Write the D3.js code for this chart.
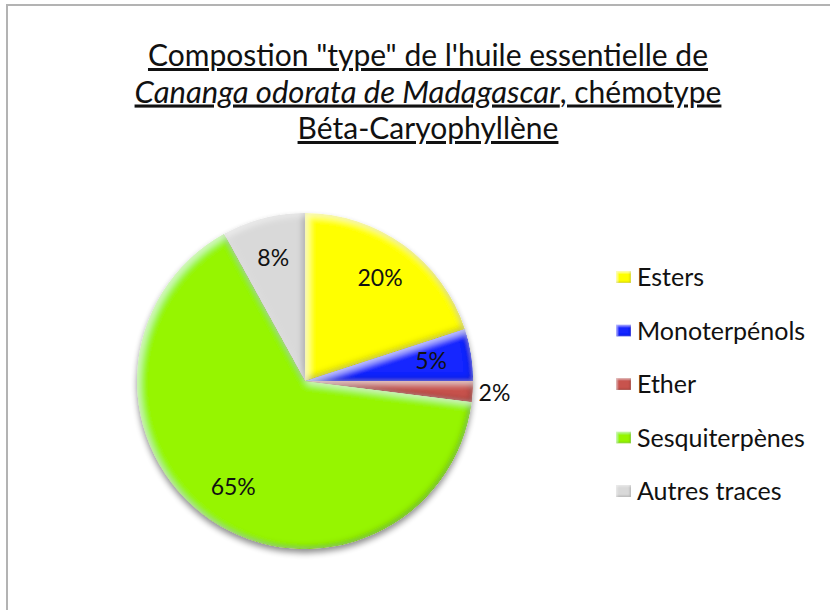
<!DOCTYPE html>
<html>
<head>
<meta charset="utf-8">
<script src="https://cdn.jsdelivr.net/npm/d3@7"></script>
<style>
  html, body { margin: 0; padding: 0; background: #fff; }
  svg { display: block; }
</style>
</head>
<body>
<svg id="chart" width="830" height="610"></svg>
<script>
// Composition data
const categories = ["Esters", "Monoterpénols", "Ether", "Sesquiterpènes", "Autres traces"];
const values = [20, 5, 2, 65, 8];
const colors = ["#ffff00", "#1428ff", "#c8524e", "#96f500", "#d9d9d9"];
const titleLines = [
  [{ t: "Compostion \"type\" de l'huile essentielle de", i: false }],
  [{ t: "Cananga odorata de Madagascar", i: true }, { t: ", chémotype", i: false }],
  [{ t: "Béta-Caryophyllène", i: false }]
];

const W = 830, H = 610;
const svg = d3.select("#chart");
const font = "Lato, 'Open Sans', sans-serif";

const defs = svg.append("defs");

// Bevelled slice look: dark rim bottom-right, light rim top-left
function bevelFilter(id, blur, off, darkOp, lightOp) {
  const f = defs.append("filter").attr("id", id)
    .attr("x", "-10%").attr("y", "-10%").attr("width", "120%").attr("height", "120%");
  f.append("feGaussianBlur").attr("in", "SourceAlpha").attr("stdDeviation", blur).attr("result", "blur");
  f.append("feOffset").attr("in", "blur").attr("dx", -off).attr("dy", -off).attr("result", "offD");
  f.append("feComposite").attr("in", "SourceAlpha").attr("in2", "offD")
    .attr("operator", "arithmetic").attr("k2", 1).attr("k3", -1).attr("result", "rimD");
  f.append("feFlood").attr("flood-color", "#000").attr("flood-opacity", darkOp).attr("result", "fD");
  f.append("feComposite").attr("in", "fD").attr("in2", "rimD").attr("operator", "in").attr("result", "shadeD");
  f.append("feOffset").attr("in", "blur").attr("dx", off).attr("dy", off).attr("result", "offL");
  f.append("feComposite").attr("in", "SourceAlpha").attr("in2", "offL")
    .attr("operator", "arithmetic").attr("k2", 1).attr("k3", -1).attr("result", "rimL");
  f.append("feFlood").attr("flood-color", "#fff").attr("flood-opacity", lightOp).attr("result", "fL");
  f.append("feComposite").attr("in", "fL").attr("in2", "rimL").attr("operator", "in").attr("result", "shadeL");
  const m = f.append("feMerge").attr("result", "merged");
  m.append("feMergeNode").attr("in", "SourceGraphic");
  m.append("feMergeNode").attr("in", "shadeD");
  m.append("feMergeNode").attr("in", "shadeL");
  f.append("feComposite").attr("in", "merged").attr("in2", "SourceAlpha").attr("operator", "in");
}
bevelFilter("bevel", 3, 2.5, 0.5, 0.55);
bevelFilter("bevelSmall", 1.2, 1.2, 0.4, 0.55);

// Soft shadow under the pie
const ds = defs.append("filter").attr("id", "drop")
  .attr("x", "-10%").attr("y", "-10%").attr("width", "120%").attr("height", "125%");
ds.append("feGaussianBlur").attr("in", "SourceAlpha").attr("stdDeviation", 3).attr("result", "b");
ds.append("feOffset").attr("in", "b").attr("dx", 0).attr("dy", 4).attr("result", "o");
ds.append("feComponentTransfer").attr("in", "o").attr("result", "oa")
  .append("feFuncA").attr("type", "linear").attr("slope", 0.45);
const dm = ds.append("feMerge");
dm.append("feMergeNode").attr("in", "oa");
dm.append("feMergeNode").attr("in", "SourceGraphic");

// Frame
svg.append("rect")
  .attr("x", 7).attr("y", 5).attr("width", W + 20).attr("height", H + 20)
  .attr("fill", "#fff").attr("stroke", "#b3b3b3").attr("stroke-width", 2);

// Title
const title = svg.append("text")
  .attr("text-anchor", "middle")
  .attr("font-family", font)
  .attr("font-size", 30)
  .attr("fill", "#111")
  .style("text-decoration", "underline");
titleLines.forEach((parts, li) => {
  const line = title.append("tspan").attr("x", 428).attr("y", 66 + li * 36.5);
  parts.forEach(p => {
    line.append("tspan").text(p.t)
      .attr("font-style", p.i ? "italic" : "normal")
      .attr("font-size", p.i ? 31 : 30);
  });
});

// Pie
const cx = 305, cy = 381, R = 168;
const pie = d3.pie().sort(null).value(d => d.v);
const slices = pie(categories.map((c, i) => ({ c, v: values[i], col: colors[i] })));
const arc = d3.arc().innerRadius(0).outerRadius(R);

const pieG = svg.append("g").attr("transform", `translate(${cx},${cy})`);
const sliceG = pieG.append("g").attr("filter", "url(#drop)");
sliceG.selectAll("path")
  .data(slices)
  .join("path")
  .attr("d", arc)
  .attr("fill", d => d.data.col)
  .attr("filter", "url(#bevel)");

// Value labels: inside for large slices, just outside the rim for tiny ones
const inArc = d3.arc().innerRadius(R * 0.76).outerRadius(R * 0.76);
const outArc = d3.arc().innerRadius(R * 1.13).outerRadius(R * 1.13);
pieG.selectAll("text.val")
  .data(slices)
  .join("text")
  .attr("class", "val")
  .attr("transform", d => {
    const p = (d.data.v < 3 ? outArc : inArc).centroid(d);
    return `translate(${p[0]},${p[1]})`;
  })
  .attr("text-anchor", "middle")
  .attr("dy", "0.36em")
  .attr("font-family", font)
  .attr("font-size", 23)
  .attr("fill", "#111")
  .text(d => d.data.v + "%");

// Legend
const legY = d3.scalePoint().domain(categories).range([277, 491]);
const leg = svg.append("g");
const items = leg.selectAll("g")
  .data(categories)
  .join("g")
  .attr("transform", c => `translate(616,${legY(c)})`);
items.append("rect")
  .attr("x", 0).attr("y", -6).attr("width", 15).attr("height", 12)
  .attr("fill", (c, i) => colors[i])
  .attr("filter", "url(#bevelSmall)");
items.append("text")
  .attr("x", 21).attr("dy", "0.36em")
  .attr("font-family", font)
  .attr("font-size", 25)
  .attr("fill", "#111")
  .text(c => c);
</script>
</body>
</html>
